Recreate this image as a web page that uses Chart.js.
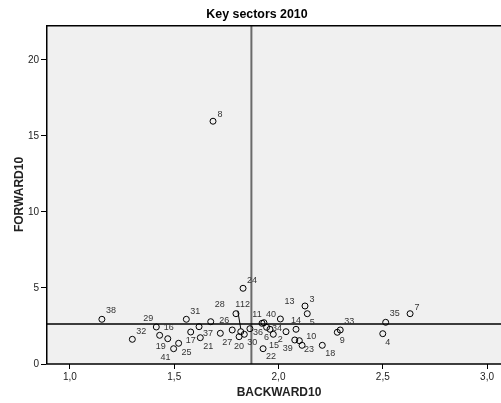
<!DOCTYPE html>
<html>
<head>
<meta charset="utf-8">
<script src="https://cdn.jsdelivr.net/npm/chart.js@4"></script>
<style>
  html, body { margin: 0; padding: 0; background: #fff; }
  #wrap { width: 501px; height: 403px; }
</style>
</head>
<body>
<div id="wrap"><canvas id="scatter"></canvas></div>
<script>
// sector numbers and their linkage values
const sectorIds = [1, 2, 3, 4, 5, 6, 7, 8, 9, 10, 11, 12, 13, 14, 15, 16, 17, 18, 19, 20,
  21, 22, 23, 24, 25, 26, 27, 28, 29, 30, 31, 32, 33, 34, 35, 36, 37, 38, 39, 40, 41];
const backward = [1.819, 1.975, 2.127, 2.500, 2.138, 1.943, 2.631, 1.686, 2.282, 2.100,
  1.921, 1.796, 2.009, 2.084, 2.036, 1.430, 1.579, 2.210, 1.469, 1.811,
  1.625, 1.926, 2.113, 1.830, 1.521, 1.778, 1.721, 1.675, 1.414, 1.836,
  1.558, 1.299, 2.296, 1.959, 2.514, 1.863, 1.619, 1.153, 2.078, 1.930, 1.497];
const forward = [2.125, 1.954, 3.816, 1.993, 3.309, 2.414, 3.309, 15.97, 2.086, 1.533,
  2.678, 3.309, 2.961, 2.283, 2.125, 1.888, 2.105, 1.230, 1.664, 1.796,
  1.730, 1.007, 1.230, 4.980, 1.362, 2.237, 2.020, 2.783, 2.434, 1.954,
  2.941, 1.625, 2.237, 2.283, 2.743, 2.322, 2.454, 2.941, 1.579, 2.717, 1.007];
const xTickValues = [1.0, 1.5, 2.0, 2.5, 3.0];
const yTickValues = [0, 5, 10, 15, 20];
const meanBackward = 1.87;
const meanForward = 2.63;

// where each number label sits relative to its point (px), layout only
const labelShift = [
  [-3, -27], [7, 5], [7, -6], [5, 9], [5, 9], [0, 10], [7, -6], [7, -7], [5, 8], [12, -4],
  [-5, -9], [9, -9], [9, -17], [0, -9], [-12, 14], [9, -8], [0, 9], [8, 8], [-7, 8], [0, 10],
  [8, 9], [8, 8], [7, 4], [9, -8], [8, 9], [-8, -9], [7, 9], [9, -17], [-8, -8], [8, 8],
  [9, -8], [9, -8], [9, -8], [7, -1], [9, -9], [8, 4], [9, 7], [9, -9], [-7, 9], [7, -8], [-8, 9]
];

Chart.defaults.font.family = "'Liberation Sans', Arial, sans-serif";

const plotDecor = {
  id: "plotDecor",
  beforeDraw(chart) {
    const { ctx, chartArea: a } = chart;
    ctx.save();
    ctx.fillStyle = "#f0f0f0";
    ctx.fillRect(a.left, a.top, a.right - a.left, a.bottom - a.top);
    ctx.restore();
  },
  beforeDatasetsDraw(chart) {
    const { ctx, chartArea: a, scales } = chart;
    const vx = scales.x.getPixelForValue(meanBackward);
    const hy = scales.y.getPixelForValue(meanForward);
    ctx.save();
    ctx.strokeStyle = "#6a6a6a";
    ctx.lineWidth = 2;
    ctx.beginPath();
    ctx.moveTo(vx, a.top);
    ctx.lineTo(vx, a.bottom);
    ctx.stroke();
    ctx.strokeStyle = "#000";
    ctx.lineWidth = 1.5;
    ctx.beginPath();
    ctx.moveTo(a.left, hy);
    ctx.lineTo(a.right, hy);
    ctx.stroke();
    ctx.restore();
  },
  afterDatasetsDraw(chart) {
    const { ctx, chartArea: a } = chart;
    const pts = chart.getDatasetMeta(0).data;
    ctx.save();
    // point labels
    ctx.font = "9px 'Liberation Sans', Arial, sans-serif";
    ctx.fillStyle = "#333";
    ctx.textAlign = "center";
    ctx.textBaseline = "middle";
    pts.forEach((p, i) => {
      const [dx, dy] = labelShift[i];
      ctx.fillText(String(sectorIds[i]), p.x + dx, p.y + dy);
      if (Math.abs(dy) > 20) {
        ctx.strokeStyle = "#000";
        ctx.lineWidth = 1;
        ctx.beginPath();
        ctx.moveTo(p.x + dx, p.y + dy + 6);
        ctx.lineTo(p.x, p.y - 3);
        ctx.stroke();
      }
    });
    // frame: top, left and bottom only (plot runs off the right edge)
    ctx.strokeStyle = "#000";
    ctx.lineWidth = 1.5;
    ctx.beginPath();
    ctx.moveTo(a.right, a.top + 0.75);
    ctx.lineTo(a.left + 0.75, a.top + 0.75);
    ctx.lineTo(a.left + 0.75, a.bottom);
    ctx.lineTo(a.right, a.bottom);
    ctx.stroke();
    // title and x axis title (SPSS puts them a bit off the plot centre)
    ctx.font = "bold 12.4px 'Liberation Sans', Arial, sans-serif";
    ctx.fillStyle = "#000";
    ctx.fillText("Key sectors 2010", 257, 15);
    ctx.font = "bold 12px 'Liberation Sans', Arial, sans-serif";
    ctx.fillStyle = "#222";
    ctx.fillText("BACKWARD10", 279, 393);
    ctx.restore();
  }
};

const ctx = document.getElementById("scatter").getContext("2d");

new Chart(ctx, {
  type: "scatter",
  data: {
    datasets: [{
      data: backward.map((b, i) => ({ x: b, y: forward[i] })),
      pointRadius: 3,
      pointBorderWidth: 1,
      pointBorderColor: "#000",
      pointBackgroundColor: "rgba(0,0,0,0)",
    }],
  },
  options: {
    responsive: true,
    maintainAspectRatio: false,
    animation: false,
    layout: { autoPadding: false, padding: { top: 25, right: 0, left: 0, bottom: 0 } },
    plugins: {
      legend: { display: false },
      tooltip: { enabled: false },
    },
    scales: {
      x: {
        type: "linear",
        min: 0.885,
        max: 3.067,
        afterBuildTicks: (s) => { s.ticks = xTickValues.map(v => ({ value: v })); },
        afterFit: (s) => { s.height = 39; s.paddingLeft = 0; s.paddingRight = 0; },
        ticks: {
          color: "#222",
          font: { size: 10 },
          padding: 2,
          callback: (v) => Number(v).toFixed(1).replace(".", ","),
        },
        grid: { drawOnChartArea: false, color: "#000", tickLength: 5 },
        border: { display: false },
        title: { display: false },
      },
      y: {
        type: "linear",
        min: 0,
        max: 22.3,
        afterBuildTicks: (s) => { s.ticks = yTickValues.map(v => ({ value: v })); },
        afterFit: (s) => { s.width = 46; s.paddingTop = 0; s.paddingBottom = 0; },
        ticks: { color: "#222", font: { size: 10 }, padding: 2 },
        grid: { drawOnChartArea: false, color: "#000", tickLength: 5 },
        border: { display: false },
        title: {
          display: true,
          text: "FORWARD10",
          color: "#222",
          font: { size: 12, weight: "bold" },
          padding: { top: 12, bottom: 0 },
        },
      },
    },
  },
  plugins: [plotDecor],
});
</script>
</body>
</html>
